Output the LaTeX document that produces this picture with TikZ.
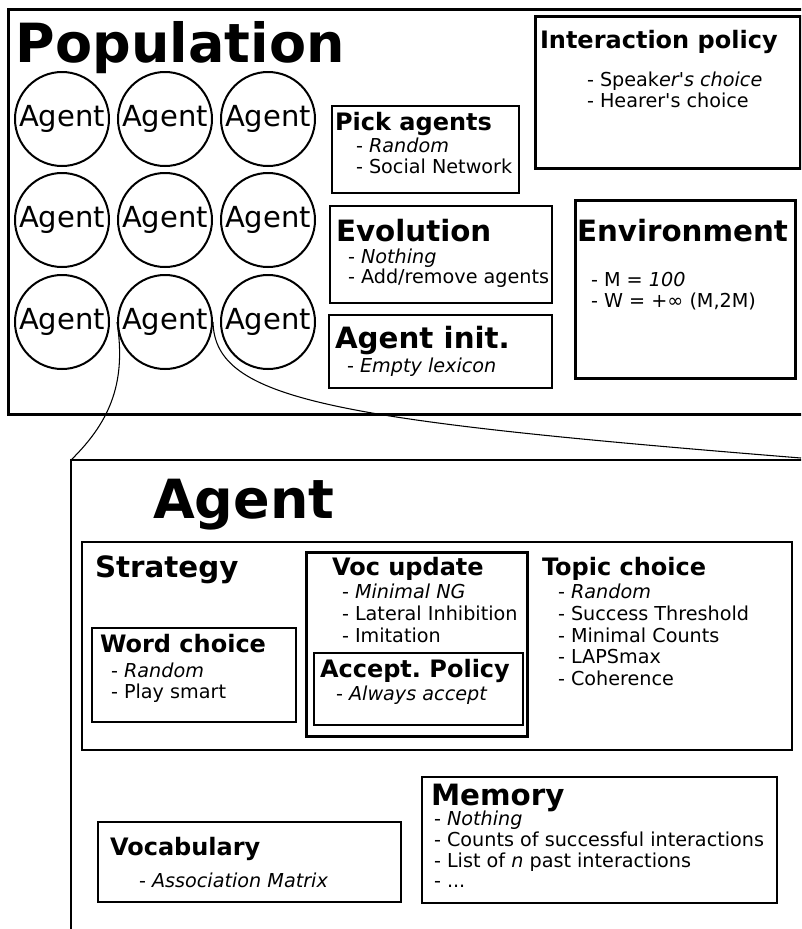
\documentclass[tikz,border=0pt]{standalone}
\usepackage{fontspec}
\setmainfont{DejaVu Sans}
\begin{document}
\frenchspacing
\begin{tikzpicture}[x=0.75pt,y=-0.75pt,
  txt/.style={anchor=base west,inner sep=0pt,outer sep=0pt},
  hugetitle/.style={txt,font=\bfseries\fontsize{40.5}{40.5}\selectfont},
  bigtitle/.style={txt,font=\bfseries\fontsize{22}{22}\selectfont},
  subtitle/.style={txt,font=\bfseries\fontsize{18}{18}\selectfont},
  item/.style={txt,font=\fontsize{14.4}{14.4}\selectfont},
  agentc/.style={circle,draw,line width=1.5pt,minimum size=70.5pt,inner sep=0pt,font=\fontsize{21.75}{21.75}\selectfont},
  thickbox/.style={draw,line width=2.25pt},
  midbox/.style={draw,line width=1.5pt},
  thinbox/.style={draw,line width=1.1pt},
  link/.style={draw,line width=0.8pt}
]
\clip (0,0) rectangle (801,929);
\fill[white] (0,0) rectangle (801,929);

% ---------- Population ----------
\draw[thickbox] (8,9) rectangle (820,414);
\node[hugetitle] (poptitle) at (16,62) {Population};

\foreach \r/\yy in {1/119,2/220,3/322}{
  \foreach \c/\xx in {1/62,2/165,3/268}{
    \node[agentc] (a\r\c) at (\xx,\yy) {Agent};
  }
}

% Pick agents
\draw[midbox] (332,106) rectangle (519,193);
\node[subtitle] (pickt) at (335,130) {Pick agents};
\node[item] (pick1) at (356,152) {- \textit{Random}};
\node[item] (pick2) at (356,173) {- Social Network};

% Interaction policy
\draw[thickbox] (535,16) rectangle (800,168);
\node[subtitle] (intt) at (540,48) {Interaction policy};
\node[item] (int1) at (587,86) {- Speak\textit{er\textquotesingle s choice}};
\node[item] (int2) at (587,107) {- Hearer\textquotesingle s choice};

% Evolution
\draw[midbox] (330,206) rectangle (552,303);
\node[bigtitle] (evot) at (336,241) {Evolution};
\node[item] (evo1) at (348,263) {- \textit{Nothing}};
\node[item] (evo2) at (348,283) {- Add/remove agents};

% Agent init.
\draw[midbox] (329,315) rectangle (552,388);
\node[bigtitle] (initt) at (335,348) {Agent init.};
\node[item] (init1) at (347,372) {- \textit{Empty lexicon}};

% Environment
\draw[thickbox] (575,200) rectangle (795,378);
\node[bigtitle] (envt) at (577,241) {Environment};
\node[item] (env1) at (591,286) {- M = \textit{100}};
\node[item] (env2) at (591,307) {- W = +∞ (M,2M)};

% ---------- Agent ----------
\draw[line width=1.9pt] (71,460) rectangle (820,950);
\coordinate (agTL) at (71,460);
\coordinate (agTR) at (801,458);
\node[hugetitle] (agtitle) at (153,518) {Agent};

% Strategy
\draw[midbox] (82,542) rectangle (792,750);
\node[bigtitle] (strt) at (95,577) {Strategy};

\draw[thinbox] (92,628) rectangle (296,722);
\node[subtitle] (wct) at (100,652) {Word choice};
\node[item] (wc1) at (111,677) {- \textit{Random}};
\node[item] (wc2) at (111,698) {- Play smart};

\draw[thickbox] (306,552) rectangle (527,736);
\node[subtitle] (vut) at (332,575) {Voc update};
\node[item] (vu1) at (342,598) {- \textit{Minimal NG}};
\node[item] (vu2) at (342,620) {- Lateral Inhibition};
\node[item] (vu3) at (342,642) {- Imitation};

\draw[thinbox] (314,653) rectangle (523,725);
\node[subtitle] (apt) at (320,677) {Accept. Policy};
\node[item] (ap1) at (336,700) {- \textit{Always accept}};

\node[subtitle] (tct) at (542,575) {Topic choice};
\node[item] (tc1) at (558,598) {- \textit{Random}};
\node[item] (tc2) at (558,620) {- Success Threshold};
\node[item] (tc3) at (558,642) {- Minimal Counts};
\node[item] (tc4) at (558,663) {- LAPSmax};
\node[item] (tc5) at (558,685) {- Coherence};

% Vocabulary
\draw[thinbox] (98,822) rectangle (401,902);
\node[subtitle] (voct) at (110,855) {Vocabulary};
\node[item] (voc1) at (139,887) {- \textit{Association Matrix}};

% Memory
\draw[midbox] (422,777) rectangle (777,903);
\node[bigtitle] (memt) at (431,805) {Memory};
\node[item] (mem1) at (434,825) {- \textit{Nothing}};
\node[item] (mem2) at (434,846) {- Counts of successful interactions};
\node[item] (mem3) at (434,867) {- List of \textit{n} past interactions};
\node[item] (mem4) at (434,887) {- ...};

% ---------- zoom lines ----------
\draw[link] (a32.west) .. controls (126,380) and (112,420) .. (agTL);
\draw[link] (a32.east) .. controls (215,400) and (330,420) .. (agTR);
\end{tikzpicture}
\end{document}
